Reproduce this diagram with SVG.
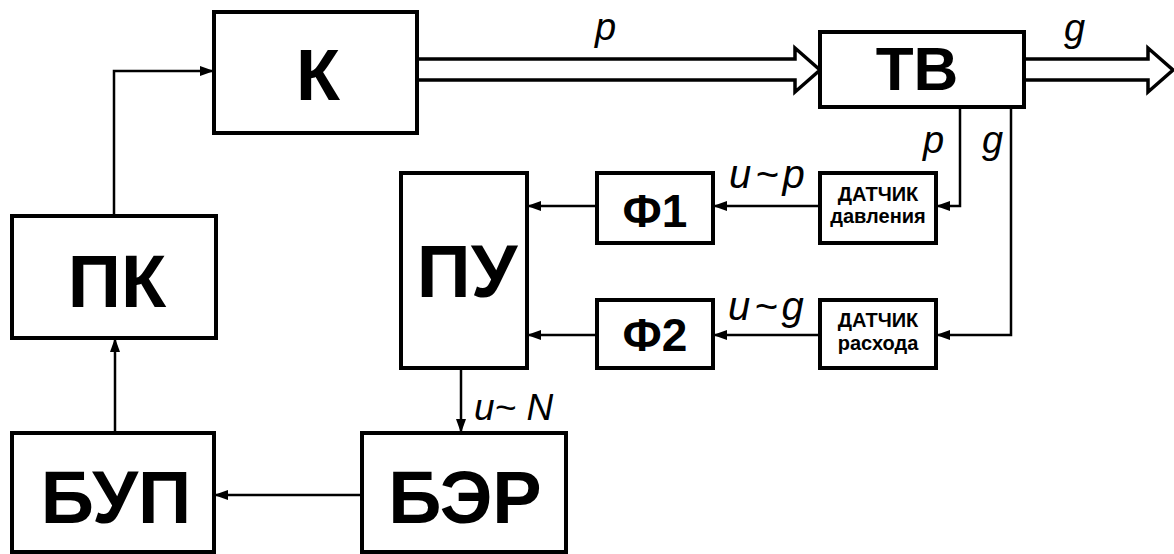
<svg xmlns="http://www.w3.org/2000/svg" width="1174" height="554" viewBox="0 0 1174 554">
<style>
.box{fill:#fff;stroke:#000;stroke-width:4}
.big{font-family:"Liberation Sans",Arial,sans-serif;font-weight:bold;text-anchor:middle;fill:#000}
.sm{font-family:"Liberation Sans",Arial,sans-serif;font-weight:bold;text-anchor:middle;fill:#000;font-size:20px}
.lab{font-family:"Liberation Sans",Arial,sans-serif;font-style:italic;fill:#000}
.con{fill:none;stroke:#000;stroke-width:2.5}
.pipe{fill:#fff;stroke:#000;stroke-width:3.5;stroke-linejoin:miter}
</style>
<defs>
<marker id="ah" markerUnits="userSpaceOnUse" markerWidth="14" markerHeight="10" refX="13" refY="5" orient="auto">
<path d="M0,0 L14,5 L0,10 Z" fill="#000"/>
</marker>
</defs>
<rect width="1174" height="554" fill="#fff"/>
<g id="connectors">
<path class="pipe" d="M417,59 H795 V48 L820,70 L795,92 V80 H417"/>
<path class="pipe" d="M1024,59 H1148 V48 L1173,70 L1148,92 V80 H1024"/>
<path class="con" d="M114,216 V71 H213" marker-end="url(#ah)"/>
<path class="con" d="M115,433 V339" marker-end="url(#ah)"/>
<path class="con" d="M362,495 H215" marker-end="url(#ah)"/>
<path class="con" d="M461,368 V432" marker-end="url(#ah)"/>
<path class="con" d="M597,206 H528" marker-end="url(#ah)"/>
<path class="con" d="M597,335 H528" marker-end="url(#ah)"/>
<path class="con" d="M820,206 H714" marker-end="url(#ah)"/>
<path class="con" d="M820,335 H714" marker-end="url(#ah)"/>
<path class="con" d="M960,107 V206 H937" marker-end="url(#ah)"/>
<path class="con" d="M1011,107 V335 H937" marker-end="url(#ah)"/>
<text class="lab" x="595" y="40" font-size="38">p</text>
<text class="lab" x="1064" y="41" font-size="38">g</text>
<text class="lab" x="923" y="153" font-size="38">p</text>
<text class="lab" x="982" y="153" font-size="38">g</text>
<text class="lab" x="729" y="188" font-size="40" letter-spacing="4">u~p</text>
<text class="lab" x="728" y="320" font-size="40" letter-spacing="4">u~g</text>
<text class="lab" x="474" y="420" font-size="37">u~ N</text>
</g>
<g id="K"><rect class="box" x="214" y="12" width="203" height="121"/><text class="big" x="318" y="100" font-size="72">К</text></g>
<g id="TV"><rect class="box" x="820" y="32" width="204" height="75"/><text class="big" x="917" y="90" font-size="62">ТВ</text></g>
<g id="PK"><rect class="box" x="12" y="216" width="204" height="122"/><text class="big" x="117" y="307" font-size="74">ПК</text></g>
<g id="PU"><rect class="box" x="401" y="173" width="126" height="195"/><text class="big" x="467" y="297" font-size="75">ПУ</text></g>
<g id="F1"><rect class="box" x="597" y="173" width="116" height="70"/><text class="big" x="655" y="227" font-size="46">Ф1</text></g>
<g id="F2"><rect class="box" x="597" y="300" width="116" height="68"/><text class="big" x="655" y="351" font-size="46">Ф2</text></g>
<g id="DD"><rect class="box" x="820" y="173" width="116" height="70"/><text class="sm" x="878" y="201">ДАТЧИК</text><text class="sm" x="878" y="223">давления</text></g>
<g id="DR"><rect class="box" x="820" y="300" width="116" height="68"/><text class="sm" x="878" y="327">ДАТЧИК</text><text class="sm" x="878" y="350">расхода</text></g>
<g id="BUP"><rect class="box" x="12" y="433" width="202" height="119"/><text class="big" x="116" y="523" font-size="74">БУП</text></g>
<g id="BER"><rect class="box" x="362" y="433" width="204" height="119"/><text class="big" x="465" y="523" font-size="74">БЭР</text></g>
</svg>
